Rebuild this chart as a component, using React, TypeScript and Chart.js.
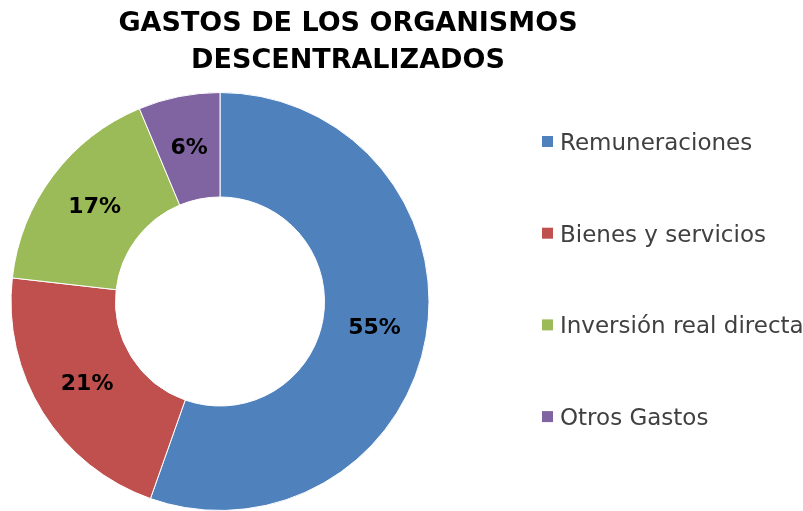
import React, { useEffect, useRef } from "react";
import { Chart, registerables } from "chart.js";

Chart.register(...registerables);

const titleLines = ["GASTOS DE LOS ORGANISMOS", "DESCENTRALIZADOS"];
const categories = ["Remuneraciones", "Bienes y servicios", "Inversión real directa", "Otros Gastos"];
const values = [55.4, 21.4, 16.9, 6.3];
const colors = ["#4F81BD", "#C0504D", "#9BBB59", "#8064A2"];

const FONT = "'DejaVu Sans', sans-serif";

const decorPlugin = {
  id: "decor",
  afterDraw(chart: any) {
    const ctx = chart.ctx;
    ctx.save();
    // Title
    ctx.fillStyle = "#000000";
    ctx.font = `bold 27px ${FONT}`;
    ctx.textAlign = "center";
    ctx.textBaseline = "alphabetic";
    titleLines.forEach((line, i) => {
      ctx.fillText(line, 348, 31 + i * 37);
    });

    // Data labels
    const meta = chart.getDatasetMeta(0);
    const data = chart.data.datasets[0].data as number[];
    const total = data.reduce((a, b) => a + b, 0);
    ctx.font = `bold 22px ${FONT}`;
    ctx.textAlign = "center";
    ctx.textBaseline = "middle";
    ctx.fillStyle = "#000000";
    meta.data.forEach((arc: any, i: number) => {
      const p = arc.tooltipPosition();
      const pct = Math.round((data[i] / total) * 100);
      ctx.fillText(pct + "%", p.x, p.y);
    });

    // Legend
    const labels = chart.data.labels as string[];
    const bg = chart.data.datasets[0].backgroundColor as string[];
    ctx.font = `23px ${FONT}`;
    ctx.textAlign = "left";
    ctx.textBaseline = "alphabetic";
    labels.forEach((lab, i) => {
      const cy = 141.5 + i * 91.7;
      ctx.fillStyle = bg[i];
      ctx.fillRect(542, cy - 5.5, 11, 11);
      ctx.fillStyle = "#404040";
      ctx.fillText(lab, 560, cy + 8.5);
    });
    ctx.restore();
  },
};

export default function App() {
  const ref = useRef<HTMLCanvasElement>(null);
  useEffect(() => {
    if (!ref.current) return;
    const chart = new Chart(ref.current, {
      type: "doughnut",
      data: {
        labels: categories,
        datasets: [
          {
            data: values,
            backgroundColor: colors,
            borderColor: "#ffffff",
            borderWidth: 1,
          },
        ],
      },
      options: {
        responsive: false,
        animation: false,
        cutout: "50%",
        layout: { padding: { top: 92, left: 0, right: 363, bottom: 0 } },
        plugins: {
          legend: { display: false },
          title: { display: false },
          tooltip: { enabled: false },
        },
      },
      plugins: [decorPlugin],
    });
    return () => chart.destroy();
  }, []);
  return (
    <div style={{ position: "absolute", left: 0, top: 0, width: 803, height: 511, background: "#fff" }}>
      <canvas ref={ref} width={803} height={511} style={{ display: "block" }} />
    </div>
  );
}
